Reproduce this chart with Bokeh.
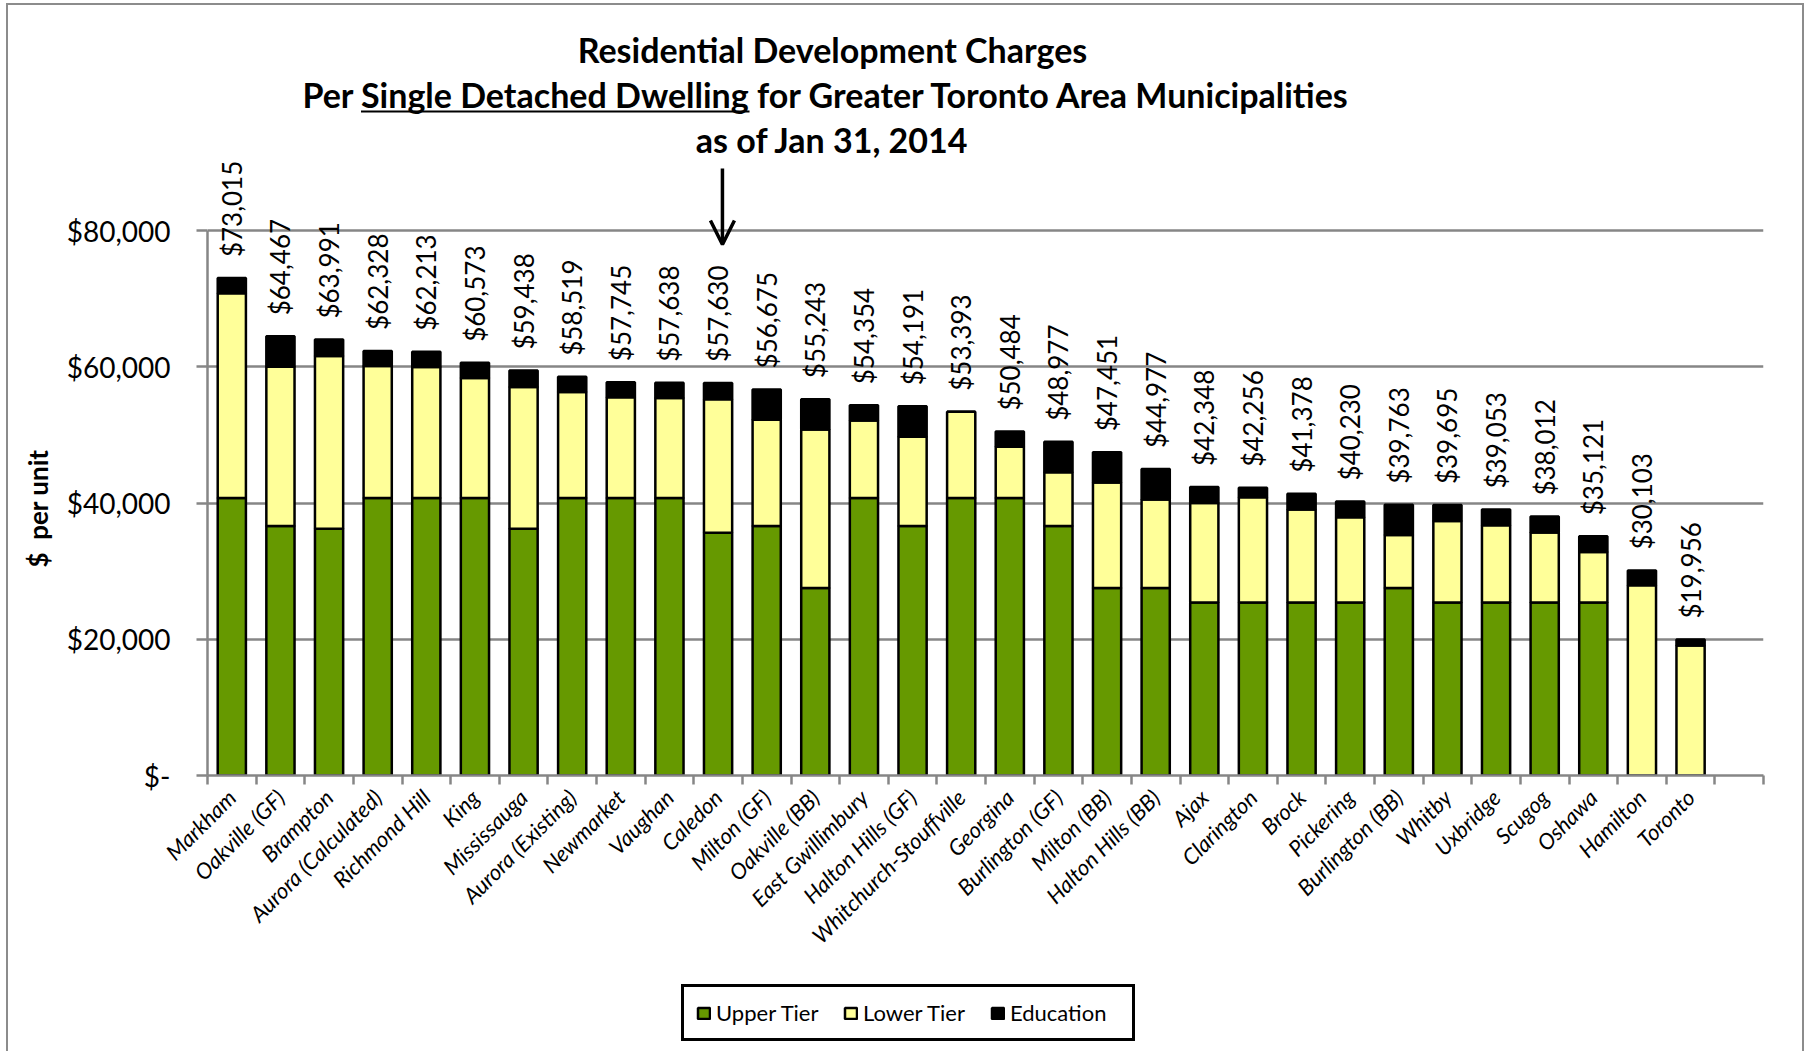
from math import pi

from bokeh.core.properties import value
from bokeh.embed import file_html
from bokeh.layouts import column
from bokeh.models import (Arrow, ColumnDataSource, FixedTicker, Grid, Label,
                          LabelSet, Legend, LegendItem, LinearAxis, OpenHead,
                          Range1d, Title)
from bokeh.plotting import figure
from bokeh.resources import INLINE

# Development charges per single detached dwelling, by municipality
municipalities = [
    "Markham", "Oakville (GF)", "Brampton", "Aurora (Calculated)", "Richmond Hill",
    "King", "Mississauga", "Aurora (Existing)", "Newmarket", "Vaughan", "Caledon",
    "Milton (GF)", "Oakville (BB)", "East Gwillimbury", "Halton Hills (GF)",
    "Whitchurch-Stouffville", "Georgina", "Burlington (GF)", "Milton (BB)",
    "Halton Hills (BB)", "Ajax", "Clarington", "Brock", "Pickering",
    "Burlington (BB)", "Whitby", "Uxbridge", "Scugog", "Oshawa", "Hamilton", "Toronto",
]
upper_tier = [
    40750, 36630, 36230, 40750, 40750, 40750, 36230, 40750, 40750, 40750, 35620,
    36630, 27540, 40750, 36630, 40750, 40750, 36630, 27540, 27540, 25410, 25410,
    25410, 25410, 27540, 25410, 25410, 25410, 25410, 0, 0,
]
lower_tier = [
    30035, 23387, 25361, 19348, 19233, 17593, 20808, 15539, 14765, 14658, 19610,
    15595, 23253, 11374, 13111, 12643, 7504, 7897, 15461, 12987, 14608, 15426,
    13638, 12490, 7773, 11955, 11313, 10272, 7381, 27933, 19066,
]
education = [
    2230, 4450, 2400, 2230, 2230, 2230, 2400, 2230, 2230, 2230, 2400,
    4450, 4450, 2230, 4450, 0, 2230, 4450, 4450, 4450, 2330, 1420,
    2330, 2330, 4450, 2330, 2330, 2330, 2330, 2170, 890,
]
series_names = ["Upper Tier", "Lower Tier", "Education"]
series_colors = ["#669900", "#FFFF99", "#000000"]

y_ticks = [0, 20000, 40000, 60000, 80000]
y_tick_labels = ["$-", "$20,000", "$40,000", "$60,000", "$80,000"]

FONT = "Lato"
GRID_GRAY = "#868686"
FRAME_GRAY = "2px solid #8c8c8c"
Y_TOP = 112300          # headroom above the $80,000 line for the title block
BORDER_LEFT, BORDER_RIGHT = 199, 39

n = len(municipalities)
positions = list(range(n))
totals = [u + l + e for u, l, e in zip(upper_tier, lower_tier, education)]
total_labels = [f"${t:,}" for t in totals]

source = ColumnDataSource(dict(
    x=positions, upper=upper_tier, lower=lower_tier, education=education,
    total=totals, label=total_labels,
))

p = figure(
    width=1794, height=970,
    x_range=Range1d(-0.5, n + 0.5), y_range=Range1d(0, Y_TOP),
    x_axis_type=None, y_axis_type=None,
    output_backend="svg", toolbar_location=None,
    min_border_left=BORDER_LEFT, min_border_right=BORDER_RIGHT,
    min_border_top=5, min_border_bottom=200,
    outline_line_color=None, background_fill_color="white",
    border_fill_color="white",
)
p.margin = 0

# value axis with Excel-style accounting labels
yaxis = LinearAxis(
    ticker=FixedTicker(ticks=y_ticks),
    major_label_overrides=dict(zip(y_ticks, y_tick_labels)),
    bounds=(0, 80000),
    axis_line_color=GRID_GRAY, axis_line_width=2.5,
    major_tick_line_color=GRID_GRAY, major_tick_line_width=2.5,
    major_tick_out=11, major_tick_in=0,
    minor_tick_line_color=None,
    major_label_standoff=26,
    major_label_text_font=FONT, major_label_text_font_size="28px",
    major_label_text_color="black",
)
p.add_layout(yaxis, "left")
p.add_layout(Title(text="$\u00a0\u00a0per unit", align="left", offset=208,
                   text_font=FONT, text_font_size="26px", text_font_style="bold",
                   text_color="black", standoff=20), "left")

# category axis: names at bar centres, tick marks between categories
xaxis = LinearAxis(
    ticker=FixedTicker(ticks=positions, minor_ticks=[i - 0.5 for i in range(n + 2)]),
    major_label_overrides={i: name for i, name in enumerate(municipalities)},
    major_label_orientation=pi / 4,
    axis_line_color=GRID_GRAY, axis_line_width=2.5,
    major_tick_line_color=None, major_tick_out=0, major_tick_in=0,
    minor_tick_line_color=GRID_GRAY, minor_tick_line_width=2.5,
    minor_tick_out=9, minor_tick_in=0,
    major_label_standoff=9,
    major_label_text_font=FONT, major_label_text_font_size="22px",
    major_label_text_font_style="italic", major_label_text_color="black",
)
p.add_layout(xaxis, "below")

p.add_layout(Grid(dimension=1, ticker=FixedTicker(ticks=y_ticks),
                  grid_line_color=GRID_GRAY, grid_line_width=2.5))

stack_fields = ["upper", "lower", "education"]
bar_line = dict(line_color="black", line_width=2.5)
p.vbar_stack(stack_fields, x="x", source=source, width=0.58,
             fill_color=series_colors, **bar_line)

p.add_layout(LabelSet(
    x="x", y="total", text="label", source=source,
    angle=pi / 2, text_align="left", text_baseline="middle", y_offset=21,
    text_font=value(FONT), text_font_size="26px", text_color="black",
))

# three-line title, with the dwelling type underlined
title_kw = dict(text_font=FONT, text_font_style="bold", text_font_size="34px",
                text_color="black", text_baseline="alphabetic")
p.add_layout(Label(x=12.353, y=106620, text="Residential Development Charges",
                   text_align="center", **title_kw))
p.add_layout(Label(x=2.503, y=100010, text="Per", text_align="right", **title_kw))
p.add_layout(Label(x=2.657, y=100010, text="Single Detached Dwelling",
                   text_align="left", **title_kw))
p.add_layout(Label(x=10.803, y=100010, text="for Greater Toronto Area Municipalities",
                   text_align="left", **title_kw))
p.add_layout(Label(x=12.353, y=93410, text="as of Jan 31, 2014",
                   text_align="center", **title_kw))
p.add_layout(Arrow(x_start=2.657, y_start=97473, x_end=10.647, y_end=97473,
                   start=None, end=None, line_color="black", line_width=2))

# pointer to Caledon
p.add_layout(Arrow(x_start=10.09, y_start=89100, x_end=10.09, y_end=77950,
                   line_color="black", line_width=3.5,
                   end=OpenHead(size=24, line_width=3.5, line_color="black")))

# legend strip under the chart; each swatch renderer is a single degenerate
# bar that sits behind the opaque legend box
p_leg = figure(
    width=1794, height=76, x_range=Range1d(0, 1), y_range=Range1d(0, 1),
    x_axis_type=None, y_axis_type=None,
    output_backend="svg", toolbar_location=None,
    min_border_left=BORDER_LEFT, min_border_right=BORDER_RIGHT,
    min_border_top=0, min_border_bottom=0, outline_line_color=None,
    background_fill_color="white", border_fill_color="white",
)
p_leg.margin = 0
swatches = [p_leg.vbar(x=[0.5], bottom=[0.5], top=[0.5], width=0,
                       fill_color=c, **bar_line) for c in series_colors]
legend = Legend(
    items=[LegendItem(label=name, renderers=[r]) for name, r in zip(series_names, swatches)],
    orientation="horizontal", location=(474, 10),
    border_line_color="black", border_line_width=3, border_line_alpha=1,
    background_fill_color="white", background_fill_alpha=1,
    label_text_font=FONT, label_text_font_size="22px", label_text_color="black",
    glyph_width=15, glyph_height=14, label_standoff=5, label_width=110,
    spacing=17, padding=12, margin=0,
)
p_leg.add_layout(legend)

# chart area frame: open at the bottom
layout = column(p, p_leg, spacing=0)
layout.margin = (3, 0, 0, 6)
layout.styles = {"border-top": FRAME_GRAY, "border-left": FRAME_GRAY,
                 "border-right": FRAME_GRAY}
open("out.html", "w").write(file_html(layout, INLINE))
